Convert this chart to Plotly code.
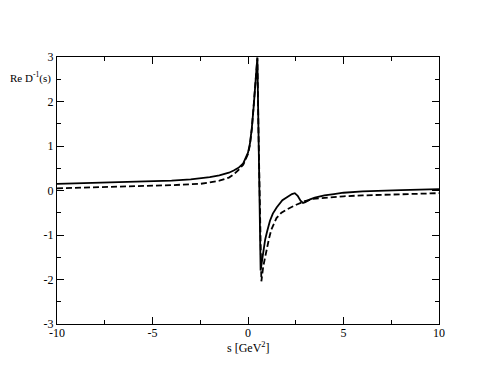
import plotly.graph_objects as go

# Solid curve
x_solid = [-10, -8, -6, -5, -4, -3, -2.5, -2, -1.5, -1, -0.75, -0.5, -0.25, 0, 0.1, 0.2, 0.3, 0.38, 0.45, 0.49,
           0.55, 0.6, 0.66, 0.72, 0.8, 0.9, 1.0, 1.15, 1.3, 1.5, 1.8, 2.1, 2.3, 2.45, 2.6, 2.75, 2.88, 3.0,
           3.25, 3.5, 4, 4.5, 5, 6, 7, 8, 9, 10]
y_solid = [0.15, 0.17, 0.19, 0.2, 0.22, 0.25, 0.27, 0.3, 0.34, 0.4, 0.45, 0.51, 0.61, 0.85, 1.05, 1.4, 1.9, 2.35, 2.75, 2.99,
           1.3, -0.3, -1.8, -1.62, -1.33, -1.1, -0.92, -0.68, -0.52, -0.38, -0.22, -0.13, -0.08, -0.06, -0.12, -0.23, -0.28, -0.26,
           -0.2, -0.16, -0.11, -0.08, -0.05, -0.02, 0.0, 0.01, 0.02, 0.03]

# Dashed curve
x_dash = [-10, -8, -6, -5, -4, -3, -2.5, -2, -1.5, -1, -0.75, -0.5, -0.25, 0, 0.1, 0.2, 0.3, 0.38, 0.45, 0.49,
          0.55, 0.62, 0.70, 0.8, 0.96, 1.1, 1.22, 1.49, 1.75, 2.01, 2.53, 2.97, 3.4, 4.27, 5, 6, 7.77, 10]
y_dash = [0.05, 0.07, 0.09, 0.1, 0.12, 0.14, 0.15, 0.18, 0.22, 0.29, 0.36, 0.46, 0.58, 0.82, 1.02, 1.38, 1.88, 2.33, 2.73, 2.97,
          1.3, -0.4, -2.04, -1.7, -1.33, -1.08, -0.88, -0.62, -0.5, -0.43, -0.32, -0.24, -0.19, -0.15, -0.13, -0.11, -0.09, -0.06]

x_ticks = [-10, -5, 0, 5, 10]
x_tick_labels = ["-10", "-5", "0", "5", "10"]
y_ticks = [-3, -2, -1, 0, 1, 2, 3]
y_tick_labels = ["-3", "-2", "-1", "0", "1", "2", "3"]

font_family = "Liberation Serif"

fig = go.Figure()
fig.add_trace(go.Scatter(x=x_solid, y=y_solid, mode="lines",
                         line=dict(color="black", width=1.8), showlegend=False))
fig.add_trace(go.Scatter(x=x_dash, y=y_dash, mode="lines",
                         line=dict(color="black", width=1.8, dash="6px,3px"), showlegend=False))

axis_common = dict(showline=True, linecolor="black", linewidth=1, mirror="allticks",
                   ticks="inside", ticklen=7, tickcolor="black", tickwidth=1,
                   showgrid=False, zeroline=False,
                   tickfont=dict(family=font_family, size=12, color="black"))

fig.update_xaxes(range=[-10, 10], tickmode="array", tickvals=x_ticks, ticktext=x_tick_labels,
                 ticklabelstandoff=-2,
                 minor=dict(ticks="inside", ticklen=4, dtick=2.5, tickcolor="black", showgrid=False),
                 **axis_common)
fig.update_yaxes(range=[-3, 3], tickmode="array", tickvals=y_ticks, ticktext=y_tick_labels,
                 minor=dict(ticks="inside", ticklen=4, dtick=0.5, tickcolor="black", showgrid=False),
                 **axis_common)

fig.add_annotation(text="Re D<sup>-1</sup>(s)", xref="paper", yref="paper", x=-0.127, y=0.922,
                   xanchor="left", yanchor="middle", showarrow=False,
                   font=dict(family=font_family, size=11, color="black"))
fig.add_annotation(text="s [GeV<sup>2</sup>]", xref="paper", yref="paper", x=0.5, y=-0.089,
                   xanchor="center", yanchor="middle", showarrow=False,
                   font=dict(family=font_family, size=12, color="black"))

# page body adds an 8px offset; margins compensate so the plot area lands where the reference has it
fig.update_layout(width=494, height=382, margin=dict(l=49, r=63, t=49, b=66),
                  font=dict(family=font_family, size=12, color="black"),
                  plot_bgcolor="white", paper_bgcolor="white")

fig.write_html("out.html")
